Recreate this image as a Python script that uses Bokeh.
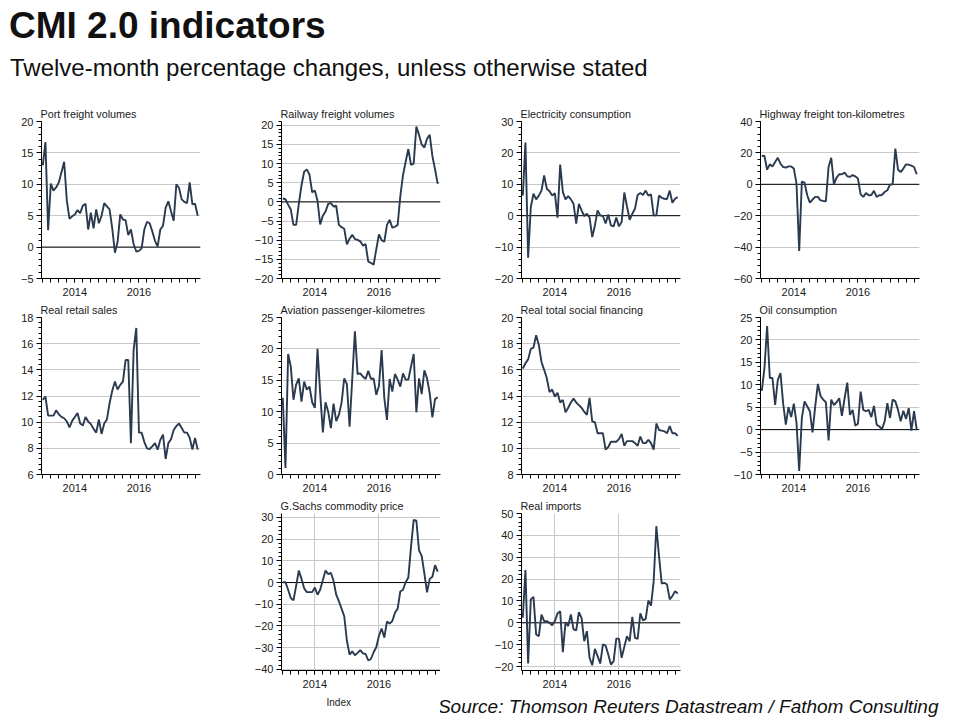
import numpy as np
from bokeh.plotting import figure
from bokeh.models import FixedTicker, SingleIntervalTicker, Range1d, Span, Title, Div, Spacer
from bokeh.layouts import row, column
from bokeh.embed import file_html
from bokeh.resources import INLINE

# ---------------- data (monthly, Jan 2013 .. Nov 2017) ----------------
start_year = 2013
n_months = 59
months = start_year + np.arange(n_months) / 12.0

tick_years = [2014, 2016]
quarter_ticks = [2013 + 0.25 * i for i in range(20)]

port = [13.0, 16.7, 2.7, 10.1, 9.0, 9.5, 10.3, 11.9, 13.6, 7.4,
        4.5, 4.9, 5.2, 5.9, 5.4, 6.6, 6.9, 2.8, 5.5, 3.0,
        6.0, 3.8, 5.0, 7.0, 6.5, 6.0, 3.0, -0.9, 0.8, 5.2,
        4.4, 4.3, 1.9, 2.8, 0.5, -0.7, -0.6, -0.2, 2.8, 4.0,
        3.8, 2.5, 1.0, 0.1, 2.8, 3.4, 6.3, 7.3, 5.7, 4.2,
        10.0, 9.4, 7.6, 7.2, 7.0, 10.3, 6.8, 6.9, 5.0]
railway = [0.9, 0.7, -0.7, -2.0, -6.0, -6.0, -0.5, 4.3, 7.9, 8.5,
           7.1, 2.5, 3.0, 0.3, -5.9, -3.6, -2.5, -0.5, -0.3, -1.2,
           -1.0, -6.0, -6.6, -7.0, -11.1, -9.6, -8.6, -9.7, -9.9, -10.3,
           -11.4, -11.0, -15.6, -15.9, -16.4, -12.4, -8.5, -10.0, -10.4, -6.0,
           -4.7, -6.7, -6.5, -6.0, 1.5, 7.0, 10.5, 13.8, 9.7, 10.0,
           19.7, 17.5, 15.0, 14.2, 16.5, 17.5, 12.0, 8.5, 4.7]
electricity = [6.4, 23.3, -13.4, 2.7, 7.0, 5.2, 6.4, 8.0, 12.8, 8.6,
               7.8, 6.4, 7.2, -0.6, 16.3, 7.5, 5.2, 6.2, 5.2, 3.8,
               -2.5, 3.8, 1.7, -0.1, 0.6, -0.6, -6.8, -3.1, 1.7, 0.1,
               -0.1, -2.5, 0.4, -3.1, -3.4, -0.6, -3.4, -2.0, 7.4, 3.0,
               -1.3, 0.6, 2.2, 6.6, 7.2, 6.6, 8.0, 6.4, 6.8, 0.1,
               0.1, 6.4, 5.7, 5.4, 5.3, 8.0, 4.1, 5.4, 5.9]
highway = [18.2, 18.0, 9.3, 12.7, 11.4, 14.2, 16.9, 13.1, 11.0, 10.6,
           11.4, 11.4, 10.0, 0.4, -42.4, 1.7, 1.1, -7.0, -11.7, -9.7,
           -8.0, -8.0, -10.2, -10.6, -10.8, 11.0, 16.9, 0.0, 4.2, 6.4,
           6.4, 7.4, 5.1, 4.7, 5.9, 5.1, 3.6, -6.4, -8.0, -5.5,
           -7.0, -6.8, -4.2, -8.0, -7.0, -6.8, -4.9, -3.8, -0.2, 0.0,
           22.7, 9.3, 7.8, 10.0, 12.7, 12.5, 11.9, 11.0, 6.4]
retail = [11.7, 11.96, 10.5, 10.5, 10.5, 10.9, 10.6, 10.4, 10.3, 10.05,
          9.6, 10.1, 10.4, 10.7, 9.9, 9.75, 10.4, 10.05, 9.85, 9.5,
          9.2, 10.2, 9.1, 9.9, 10.2, 11.45, 12.4, 13.1, 12.5, 12.85,
          13.1, 14.75, 14.75, 8.4, 15.5, 17.2, 9.2, 9.2, 8.5, 8.0,
          7.95, 8.15, 8.4, 7.9, 8.65, 9.05, 7.2, 8.4, 8.7, 9.4,
          9.7, 9.9, 9.55, 9.2, 9.2, 8.8, 7.9, 8.8, 7.9]
aviation = [12.2, 1.05, 19.2, 17.2, 11.9, 14.3, 15.3, 11.6, 14.8, 13.5,
            14.0, 11.5, 10.6, 20.0, 12.95, 6.7, 11.5, 10.0, 7.4, 11.3,
            8.5, 9.5, 11.4, 15.3, 14.4, 7.6, 15.2, 22.8, 16.0, 16.1,
            15.6, 15.2, 16.5, 15.2, 15.3, 12.7, 14.1, 19.8, 12.2, 8.7,
            15.2, 13.2, 16.0, 15.1, 14.0, 16.1, 15.1, 15.1, 17.2, 19.2,
            9.9, 15.3, 12.8, 16.6, 15.3, 12.95, 9.1, 12.0, 12.3]
social = [16.1, 16.5, 16.8, 17.6, 17.7, 18.65, 17.9, 16.6, 16.0, 15.35,
          14.3, 14.5, 13.95, 14.25, 13.5, 13.7, 12.75, 13.1, 13.5, 13.8,
          13.5, 13.3, 13.1, 12.8, 12.55, 13.85, 12.05, 12.0, 11.15, 11.15,
          11.15, 9.9, 10.1, 10.5, 10.5, 10.5, 10.7, 11.1, 10.2, 10.55,
          10.55, 10.55, 10.4, 10.2, 10.9, 10.4, 10.4, 10.65, 10.4, 9.9,
          11.9, 11.4, 11.35, 11.3, 11.15, 11.7, 11.15, 11.15, 10.95]
oil = [8.65, 13.7, 23.1, 11.5, 11.5, 5.5, 11.1, 12.6, 5.8, 1.1,
       5.0, 2.8, 5.8, 1.5, -9.2, 2.6, 6.3, 5.2, 4.1, -0.6,
       5.2, 10.2, 7.5, 6.7, 6.1, -2.4, 6.7, 5.5, 6.1, 7.0,
       3.1, 7.0, 10.5, 3.3, 4.4, 0.9, 1.3, 8.5, 4.4, 4.1,
       4.4, 2.8, 5.3, 1.1, 0.7, 0.15, 1.85, 5.9, 2.6, 6.7,
       6.3, 4.4, 1.85, 4.2, 2.4, 4.8, -0.2, 4.1, 0.0]
gsachs = [0.15, 0.15, -3.3, -7.1, -8.2, -1.5, 5.5, 1.7, -2.6, -4.4,
          -4.4, -4.4, -2.3, -5.6, -3.3, 1.2, 5.5, 3.9, 4.5, 0.8,
          -5.6, -8.6, -12.0, -15.5, -26.8, -33.2, -31.7, -33.5, -32.4, -31.1,
          -32.6, -32.9, -35.9, -35.2, -32.1, -29.8, -24.5, -21.2, -25.3, -18.0,
          -18.9, -17.7, -13.9, -12.0, -4.1, -3.3, 0.15, 2.3, 16.4, 28.9,
          28.5, 14.8, 12.3, 4.2, -4.5, 1.7, 2.7, 8.0, 5.0]
imports = [2.3, 24.1, -18.6, 10.7, 11.9, -5.3, -6.1, 3.8, 0.8, 0.8,
           0.0, -1.1, 0.8, 4.3, 5.3, -13.4, 0.3, -1.5, 3.8, -3.0,
           -3.4, 4.9, 2.3, -8.4, -3.8, -16.0, -19.4, -11.9, -15.2, -18.6,
           -9.9, -10.4, -14.5, -19.1, -17.5, -7.2, -7.2, -16.0, -11.0, -6.1,
           -8.4, 2.7, -6.9, -7.3, 4.3, 1.1, 1.8, 10.2, 7.9, 19.1,
           44.2, 30.5, 18.0, 18.3, 17.5, 10.7, 12.2, 14.5, 13.4]

# ---------------- styling ----------------
FONT = "Liberation Sans"
LINE = "#2a3a4f"
GRID = "#c8c8c8"
TXT = "#1a1a1a"
X_RANGE = (2012.96, 2017.92)
FW, FH = 159, 157


def panel(title, values, yr, interval, bl, br, bt, bb, vgrid=False):
    p = figure(frame_width=FW, frame_height=FH,
               x_range=Range1d(*X_RANGE), y_range=Range1d(*yr),
               output_backend="svg", toolbar_location=None,
               min_border_left=bl, min_border_right=br,
               min_border_top=bt, min_border_bottom=bb)
    p.margin = (0, 0, 0, 0)
    p.outline_line_color = None
    p.background_fill_color = "white"
    p.border_fill_color = None

    p.title.text = title
    p.title.text_font = FONT
    p.title.text_font_size = "10.8px"
    p.title.text_font_style = "normal"
    p.title.text_color = TXT
    p.title.align = "left"
    p.title.offset = -1
    p.title.standoff = 3

    p.xaxis.ticker = FixedTicker(ticks=tick_years, minor_ticks=quarter_ticks)
    p.yaxis.ticker = SingleIntervalTicker(interval=interval, num_minor_ticks=5)
    for ax in (p.xaxis[0], p.yaxis[0]):
        ax.axis_line_color = "black"
        ax.major_tick_line_color = "black"
        ax.minor_tick_line_color = "black"
        ax.major_tick_in = 0
        ax.minor_tick_in = 0
        ax.major_label_text_font = FONT
        ax.major_label_text_font_size = "11px"
        ax.major_label_text_color = TXT
    p.xaxis.major_tick_out = 4
    p.xaxis.minor_tick_out = 4
    p.xaxis.major_label_standoff = 5
    p.yaxis.major_tick_out = 5
    p.yaxis.minor_tick_out = 3
    p.yaxis.major_label_standoff = 3

    p.ygrid.grid_line_color = GRID
    p.xgrid.grid_line_color = GRID if vgrid else None

    if yr[0] < 0 < yr[1]:
        p.add_layout(Span(location=0, dimension="width", line_color="black",
                          line_width=1, level="underlay"))
    p.line(months, values, line_color=LINE, line_width=1.9)
    return p


header = Div(text=(
    "<div style=\"font-family:'Liberation Sans',Arial,sans-serif;color:#111111;\">"
    "<div style=\"font-size:37px;font-weight:bold;line-height:36px;padding-left:1px;\">CMI 2.0 indicators</div>"
    "<div style=\"font-size:24px;line-height:24px;margin-top:12px;padding-left:2px;\">"
    "Twelve-month percentage changes, unless otherwise stated</div></div>"),
    width=944, height=92, margin=(0, 0, 0, 0))

cols = [(33, 48), (33, 48), (33, 47), (33, 33)]

r1 = [
    panel("Port freight volumes", port, (-5, 20), 5, *cols[0], 21, 22),
    panel("Railway freight volumes", railway, (-20, 21), 5, *cols[1], 21, 22),
    panel("Electricity consumption", electricity, (-20, 30), 10, *cols[2], 21, 22),
    panel("Highway freight ton-kilometres", highway, (-60, 40), 20, *cols[3], 21, 22),
]
r2 = [
    panel("Real retail sales", retail, (6, 18), 2, *cols[0], 16, 22),
    panel("Aviation passenger-kilometres", aviation, (0, 25), 5, *cols[1], 16, 22),
    panel("Real total social financing", social, (8, 20), 2, *cols[2], 16, 22),
    panel("Oil consumption", oil, (-10, 25), 5, *cols[3], 16, 22),
]
p_gs = panel("G.Sachs commodity price", gsachs, (-40.5, 31.8), 10, 33, 0, 16, 44, vgrid=True)
p_im = panel("Real imports", imports, (-21.8, 50), 10, 81, 272, 16, 44, vgrid=True)

p_gs.add_layout(Title(text="Index", align="left", offset=45, standoff=8,
                      text_font=FONT, text_font_size="10px", text_font_style="normal",
                      text_color=TXT), "below")
p_im.add_layout(Title(text="Source: Thomson Reuters Datastream / Fathom Consulting",
                      align="right", offset=-258, standoff=6,
                      text_font=FONT, text_font_size="19px", text_font_style="italic",
                      text_color="#111111"), "below")

layout = column(
    header,
    row(*r1, margin=(0, 0, 0, 0)),
    row(*r2, margin=(0, 0, 0, 0)),
    row(Spacer(width=240, height=218, margin=(0, 0, 0, 0)), p_gs, p_im, margin=(0, 0, 0, 0)),
    margin=(8, 0, 0, 8),
)

open("out.html", "w").write(file_html(layout, INLINE))
